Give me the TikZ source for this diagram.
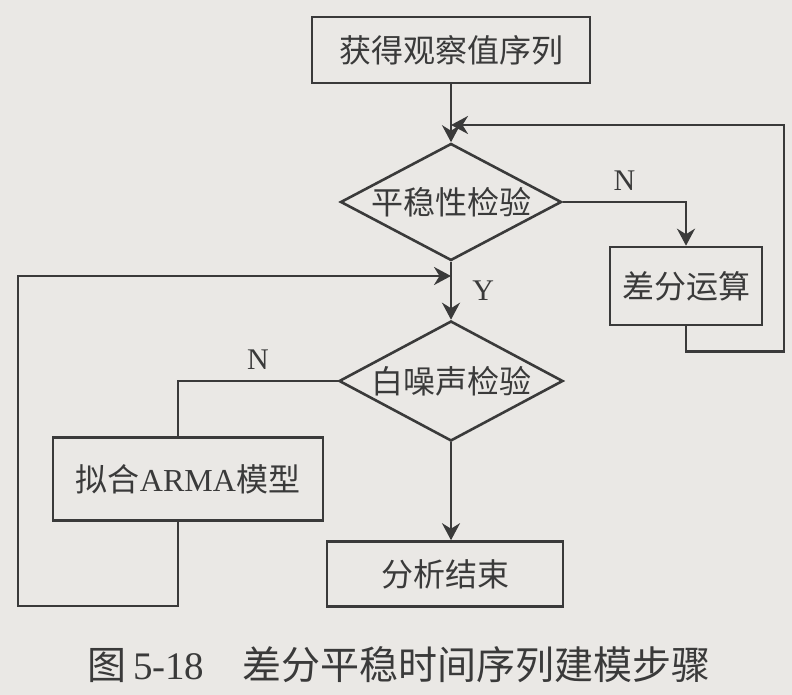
\documentclass[tikz,border=0pt]{standalone}
\usepackage{fontspec}
\setmainfont{Liberation Serif}
\newfontfamily\cjk{Noto Sans CJK SC}
\usetikzlibrary{shapes.geometric,arrows.meta}
\definecolor{paper}{RGB}{234,232,229}
\definecolor{ink}{RGB}{58,58,58}
\tikzset{
  stepnode/.style = {shape=rectangle, draw, align=center, inner sep=0pt,
                     font=\cjk\fontsize{16}{19}\selectfont},
  testnode/.style = {shape=diamond, draw, align=center, inner sep=0pt,
                     aspect=2, font=\cjk\fontsize{16}{19}\selectfont},
  answer/.style   = {inner sep=0pt, font=\fontsize{15}{18}\selectfont}
}
\begin{document}
\begin{tikzpicture}[x=0.5pt, y=-0.5pt, ->, >={Stealth[length=8.5pt,width=9pt]},
   line width=1.3pt, color=ink]
\fill[-, paper] (0,0) rectangle (792,695);
\useasboundingbox (0,0) rectangle (792,695);
\node [stepnode, minimum width=139pt, minimum height=33pt] (obs) at (451,50) {获得观察值序列};
\node [testnode, minimum width=110.5pt, minimum height=58.5pt] (stat) at (451,202) {平稳性检验};
\node [stepnode, minimum width=76pt, minimum height=39pt] (diff) at (686,286) {差分运算};
\node [testnode, minimum width=112pt, minimum height=60pt] (white) at (451,381) {白噪声检验};
\node [stepnode, minimum width=135pt, minimum height=41.5pt] (arma) at (188,479) {拟合{\rmfamily ARMA}模型};
\node [stepnode, minimum width=118pt, minimum height=32.5pt] (done) at (445,574) {分析结束};
\node [font=\fontsize{19.5}{23}\selectfont] (caption) at (399,665)
  {{\cjk 图}\,5-18\hspace{19pt}{\cjk 差分平稳时间序列建模步骤}};
\coordinate (j1) at (451,125);
\coordinate (rc) at (784,125);
\coordinate (j2) at (451,276);
\coordinate (lc) at (18,276);
\draw (obs) -- (stat);
\draw (stat.east) -| node [answer, pos=0.25, above=5pt] {N} (diff.north);
\draw (diff.south) -- ++(0,25) -| (rc) -- (j1);
\draw (stat) -- node [answer, right=10pt] {Y} (white);
\draw [-] (white.west) -| node [answer, pos=0.25, above=5pt] {N} ([xshift=-5pt]arma.north);
\draw ([xshift=-5pt]arma.south) -- ++(0,84) -| (lc) -- (j2);
\draw (white.south) -- (white.south |- done.north);
\end{tikzpicture}
\end{document}
